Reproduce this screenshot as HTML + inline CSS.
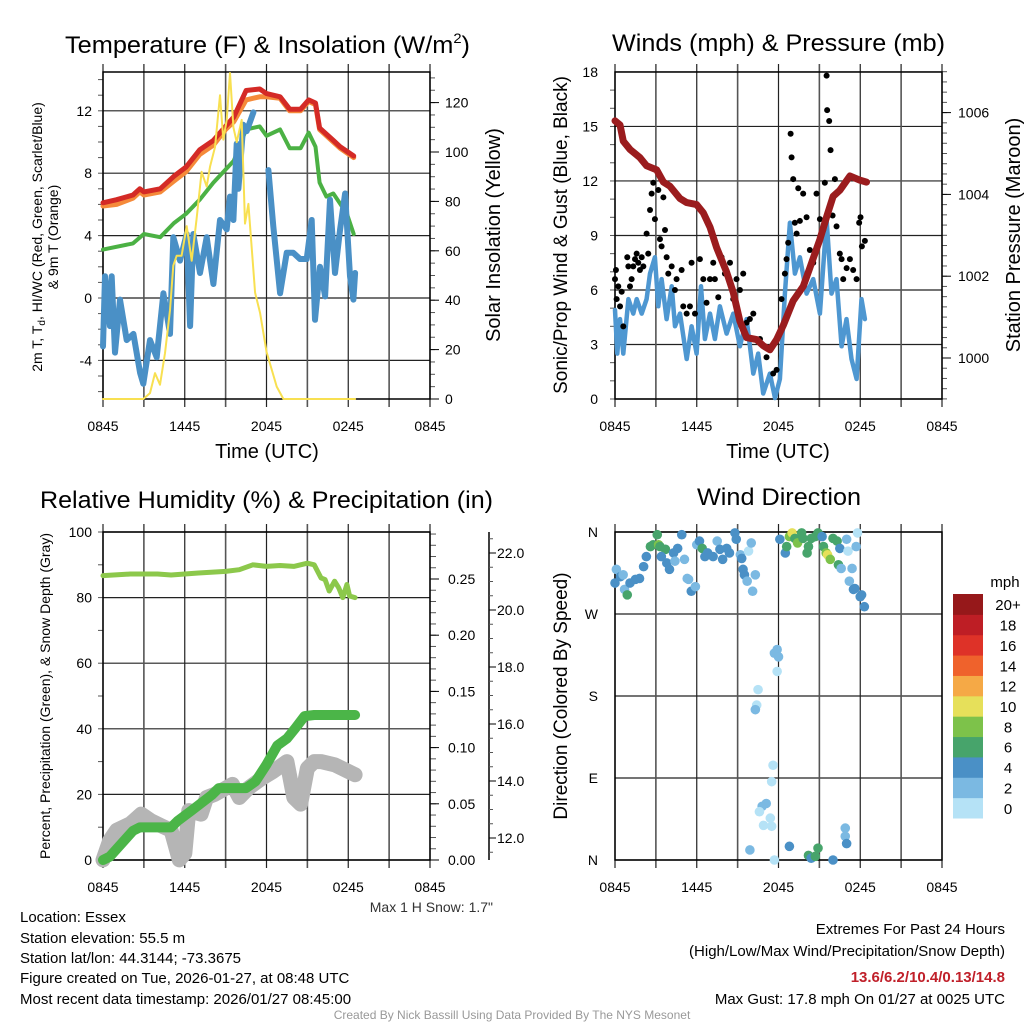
<!DOCTYPE html>
<html><head><meta charset="utf-8"><style>
html,body{margin:0;padding:0;background:#fff;}
svg{display:block;font-family:"Liberation Sans",sans-serif;}
</style></head><body>
<svg id="chart" width="1024" height="1024" viewBox="0 0 1024 1024" xmlns="http://www.w3.org/2000/svg">
<rect width="1024" height="1024" fill="#fff"/>
<g id="p1"></g>
<g id="p2"></g>
<g id="p3"></g>
<g id="p4"></g>
<g id="txt" font-size="15" fill="#000">
<text x="65" y="53" font-size="24" textLength="405" lengthAdjust="spacingAndGlyphs">Temperature (F) &amp; Insolation (W/m<tspan font-size="14" dy="-10">2</tspan><tspan dy="10">)</tspan></text>
<text x="612" y="51" font-size="24" textLength="333" lengthAdjust="spacingAndGlyphs">Winds (mph) &amp; Pressure (mb)</text>
<text x="40" y="508" font-size="24" textLength="453" lengthAdjust="spacingAndGlyphs">Relative Humidity (%) &amp; Precipitation (in)</text>
<text x="697" y="505" font-size="24" textLength="164" lengthAdjust="spacingAndGlyphs">Wind Direction</text>
<text x="267" y="458" font-size="20" text-anchor="middle">Time (UTC)</text>
<text x="778" y="458" font-size="20" text-anchor="middle">Time (UTC)</text>
<text transform="translate(42,237) rotate(-90)" font-size="14" text-anchor="middle">2m T, T<tspan font-size="10" dy="3">d</tspan><tspan dy="-3">, HI/WC (Red, Green, Scarlet/Blue)</tspan></text>
<text transform="translate(58,237) rotate(-90)" font-size="14" text-anchor="middle">&amp; 9m T (Orange)</text>
<text transform="translate(500,235) rotate(-90)" font-size="20" text-anchor="middle">Solar Insolation (Yellow)</text>
<text transform="translate(567,235) rotate(-90)" font-size="19" text-anchor="middle">Sonic/Prop Wind &amp; Gust (Blue, Black)</text>
<text transform="translate(1020,235) rotate(-90)" font-size="20" text-anchor="middle">Station Pressure (Maroon)</text>
<text transform="translate(50,696) rotate(-90)" font-size="14" text-anchor="middle">Percent, Precipitation (Green), &amp; Snow Depth (Gray)</text>
<text transform="translate(567,696) rotate(-90)" font-size="19" text-anchor="middle">Direction (Colored By Speed)</text>
<text x="493" y="912" font-size="14" fill="#333" text-anchor="end">Max 1 H Snow: 1.7"</text>
<text x="20" y="922">Location: Essex</text>
<text x="20" y="943">Station elevation: 55.5 m</text>
<text x="20" y="963">Station lat/lon: 44.3144; -73.3675</text>
<text x="20" y="983">Figure created on Tue, 2026-01-27, at 08:48 UTC</text>
<text x="20" y="1004">Most recent data timestamp: 2026/01/27 08:45:00</text>
<text x="1005" y="934" text-anchor="end">Extremes For Past 24 Hours</text>
<text x="1005" y="956" text-anchor="end">(High/Low/Max Wind/Precipitation/Snow Depth)</text>
<text x="1005" y="982" text-anchor="end" fill="#c0202a" font-weight="bold">13.6/6.2/10.4/0.13/14.8</text>
<text x="1005" y="1004" text-anchor="end">Max Gust: 17.8 mph On 01/27 at 0025 UTC</text>
<text x="512" y="1019" font-size="12" fill="#999" text-anchor="middle">Created By Nick Bassill Using Data Provided By The NYS Mesonet</text>
</g>
</svg>
<script>
// ---- Panel 1 data (hours since 0845 UTC) ----
const tempHours = [0,1,2.2,2.7,3.0,4.2,5.2,6.1,7.1,8.1,9.0,9.6,10.5,11.5,12.0,13.0,13.7,14.5,15.1,15.6,15.9,16.9,17.4,18.4];
const tempRed = [6.1,6.3,6.6,7.0,6.8,7.0,7.8,8.4,9.5,10.1,11.0,11.6,13.3,13.4,13.1,12.9,12.1,12.1,12.7,12.5,10.9,10.1,9.7,9.1];
const temp9mOrange = [5.9,6.0,6.4,6.8,6.6,6.8,7.5,8.1,9.2,9.8,10.8,11.3,12.7,12.9,12.9,12.8,12.0,12.0,12.6,12.4,10.8,10.0,9.6,9.0];
const dewHours = [0,2.2,3.0,4.2,5.2,6.1,7.1,8.1,9.6,10.5,11.5,12.0,13.0,13.7,14.5,15.1,15.6,15.9,16.4,16.9,17.9,18.4];
const dewGreen = [3.1,3.5,4.1,3.9,4.8,5.4,6.3,7.4,8.8,10.8,11.0,10.4,10.8,9.6,9.6,10.6,9.7,7.4,6.5,6.7,5.4,4.1];
const wcHours = [0,0.15,0.51,0.64,0.88,1.25,1.74,2.23,2.72,2.96,3.45,3.94,4.43,4.92,5.16,5.65,6.14,6.39,6.63,7.12,7.61,8.1,8.59,9.08,9.32,9.57,9.81,9.94,10.3,10.55,11.04,null,12.14,12.5,13.0,13.48,13.97,14.46,14.95,15.32,15.56,15.93,16.3,16.66,17.03,17.4,17.77,18.13,18.38,18.5];
const wcBlue = [-3.1,1.4,-1.8,1.4,-3.5,-0.1,-2.7,-2.3,-4.8,-5.5,-2.7,-3.8,0.3,-2.3,3.9,2.4,4.1,-1.8,4.1,1.6,3.9,0.9,5.0,4.4,6.5,5.0,9.9,7.0,11.1,10.7,11.9,null,8.2,4.6,0.3,2.9,2.9,2.5,2.5,5.0,-1.4,2.0,0.1,6.3,1.6,4.4,6.7,1.4,-0.1,1.6];
const solHours = [0,2.96,3.45,3.82,4.18,4.55,4.92,5.16,5.41,5.77,6.14,6.51,6.87,7.24,7.61,7.85,8.22,8.59,8.83,9.08,9.32,9.57,9.81,10.18,10.42,10.67,11.16,11.52,12.01,12.75,13.24,18.5];
const solar = [0,0,2.4,10.5,5.8,18.6,36,54,58,58,70,56,73,92,86,94,102,123,105,113,132,110,104,113,71,79,43,35,19,5,0,0];
// ---- Panel 2 data ----
const presHours = [0,0.37,0.61,1.1,1.83,2.32,3.06,3.55,4.03,4.77,5.26,5.99,6.48,6.97,7.46,8.19,8.68,9.17,9.66,10.39,10.88,11.37,11.86,12.35,13.08,13.81,14.3,15.04,15.53,16.01,16.5,17.24,17.97,18.46];
const pressure = [1005.8,1005.7,1005.3,1005.1,1004.9,1004.7,1004.6,1004.3,1004.2,1003.9,1003.8,1003.75,1003.55,1003.2,1002.7,1002.1,1001.6,1000.9,1000.5,1000.45,1000.3,1000.2,1000.45,1000.8,1001.4,1001.75,1002.2,1002.9,1003.45,1003.95,1004.1,1004.45,1004.35,1004.3];
const windHours = [0,0.17,0.37,0.61,0.98,1.34,1.59,1.96,2.32,2.57,2.93,3.18,3.42,3.79,4.16,4.4,4.77,5.26,5.62,5.99,6.31,6.6,6.97,7.33,7.7,8.19,8.68,9.17,9.66,10.15,10.51,10.88,11.37,11.74,12.1,12.47,12.84,13.2,13.57,14.06,14.55,15.04,15.53,15.89,16.26,16.63,16.99,17.36,17.73,18.09,18.34];
const windSpeed = [4.9,2.5,4.4,2.5,5.5,4.7,5.5,4.7,5.5,6.9,7.8,5.1,6.6,4.4,6.2,4.0,4.7,2.2,4.0,2.5,6.2,3.3,4.7,3.3,5.1,3.6,4.7,2.9,4.4,1.4,2.5,0.3,1.4,0.05,1.1,5.8,9.7,6.9,7.8,5.8,6.6,4.7,9.9,5.8,6.6,2.9,4.4,2.2,1.1,5.5,4.4];
const gustHours = [0,0.07,0.12,0.24,0.37,0.49,0.61,0.9,0.98,1.1,1.22,1.34,1.47,1.59,1.71,1.83,1.96,2.08,2.32,2.44,2.57,2.69,2.81,2.93,3.06,3.18,3.3,3.42,3.55,3.67,3.79,3.91,4.16,4.4,4.52,4.89,5.01,5.26,5.5,5.62,5.87,6.23,6.48,6.72,6.97,7.21,7.33,7.58,7.82,8.07,8.44,8.68,8.92,9.17,9.41,9.66,9.9,10.15,10.64,11.12,11.61,11.86,12.22,12.47,12.59,12.71,12.89,12.96,13.08,13.2,13.33,13.45,13.57,13.81,14.06,14.3,14.55,14.79,15.04,15.28,15.4,15.53,15.57,15.72,15.82,15.97,16.14,16.26,16.5,16.63,16.75,17.0,17.24,17.48,17.73,17.92,18.02,18.12,18.34];
const gustSpeed = [6.6,7.1,5.5,6.2,5.1,5.9,4.0,7.8,7.3,6.2,6.6,7.3,7.7,8.0,7.5,7.1,7.8,7.3,9.1,8.0,10.4,11.3,11.9,9.9,12.6,11.5,8.8,8.4,11.1,9.3,7.8,6.9,7.3,6.0,6.6,7.1,5.1,4.7,5.1,7.5,4.7,7.7,6.6,5.3,6.6,7.5,6.6,5.6,7.8,6.9,7.5,5.5,6.6,6.0,6.9,4.2,4.4,4.7,3.3,2.3,1.4,1.6,5.5,6.9,7.7,8.6,14.6,13.3,12.1,9.7,9.1,11.6,9.8,11.3,10.0,8.2,7.5,11.3,9.9,9.3,11.9,17.8,15.9,15.3,13.7,10.1,12.1,9.5,8.0,7.7,6.6,7.2,7.7,7.1,6.6,9.7,10.0,8.4,8.7];
// ---- Panel 3 data ----
const rhHours = [0,2,4,5,7,9,10,11,12,13,14,15,15.5,16,16.3,16.6,17,17.3,17.6,17.9,18.1,18.5];
const rh = [86.7,87.2,87.2,86.9,87.5,88,88.5,90,89.5,89.8,89.5,90.5,90,86,85.5,82,85,83,80,84,80.5,80];
const precipHours = [0,0.5,2.2,2.7,5.0,5.5,6.5,8.0,8.5,10.5,11.2,12.0,12.8,13.5,14.1,14.8,15.5,18.5];
const precip = [0,0.003,0.026,0.029,0.029,0.035,0.044,0.058,0.064,0.064,0.070,0.085,0.102,0.108,0.117,0.128,0.129,0.129];
const snowHours = [0,0.5,1.0,2.0,2.8,3.5,4.5,5.0,5.6,6.0,6.3,7.2,7.6,8.2,9.5,10.0,10.7,11.7,12.5,13.5,14.0,14.5,15.0,15.5,16.0,17.0,18.5];
const snowDepth = [11.23,11.92,12.27,12.5,12.84,12.61,12.38,12.27,11.23,11.46,12.96,12.84,13.42,13.53,13.88,13.42,13.76,14.11,14.34,14.68,13.42,13.19,14.45,14.68,14.68,14.57,14.22];
// ---- Panel 4 data ----
const dirHours = [0,0.1,0.4,0.6,0.7,0.9,1.1,1.5,1.8,2.1,2.3,2.6,2.8,3.1,3.2,3.3,3.7,3.4,3.8,4.0,4.3,4.4,4.6,4.9,5.1,5.3,5.4,5.6,5.9,6.0,6.2,6.4,6.6,6.8,7.2,7.5,7.7,7.9,8.2,8.4,8.8,8.9,9.2,9.3,9.4,9.5,9.7,9.8,10.0,10.1,10.3,10.5,10.4,10.3,11.9,11.7,12.0,11.9,11.6,11.5,11.1,10.8,10.6,10.9,11.4,11.5,9.9,11.7,12.1,12.5,12.6,12.8,13.0,13.2,13.4,13.7,13.8,14.1,14.2,14.4,14.7,14.9,15.2,15.3,15.5,15.6,15.8,16.0,16.3,16.4,16.5,16.6,17.0,17.1,17.2,17.4,17.5,17.6,17.7,17.8,18.0,18.1,18.3,12.8,14.2,14.4,14.7,14.9,16.0,16.9,16.9,17.0];
const dirDeg = [304,319,311,313,297,291,304,308,309,322,333,344,346,357,346,344,341,333,326,319,337,328,342,357,330,309,308,295,300,346,350,342,333,337,333,350,341,330,342,337,359,352,335,331,319,313,306,339,348,295,313,187,170,165,231,227,223,207,104,86,62,59,53,38,46,37,11,0,352,337,344,355,359,353,348,359,353,337,344,353,355,359,355,344,337,335,330,353,350,324,342,320,352,339,306,320,297,298,344,359,289,291,278,15,5,2,4,13,0,35,26,18];
const dirSpeed = [5,3,5,3,3,7,5,5,5,5,5,7,7,7,9,7,7,5,5,5,5,3,5,5,3,3,3,5,3,3,5,7,5,5,5,3,5,5,5,5,5,5,3,5,5,5,3,1,3,3,3,1,1,3,3,3,3,1,1,1,3,3,1,1,1,1,3,1,5,5,7,9,10.5,7,9,7,7,7,7,7,7,7,5,7,9,10.5,9,7,7,7,5,3,3,1,3,3,5,5,3,1,5,5,5,5,7,5,7,7,5,3,3,5];
const speedBinLabels = ["0","2","4","6","8","10","12","14","16","18","20+"];
const speedBinColors = ["#b5e2f6","#7bb9e2","#4a90c6","#47a46b","#7dc24a","#e6e05a","#f5a946","#ef622c","#de3228","#be1e25","#96181a"];
const xTickLabels = ["0845","1445","2045","0245","0845"];

const NS="http://www.w3.org/2000/svg";
function mk(parent,tag,attrs){const e=document.createElementNS(NS,tag);for(const k in attrs)e.setAttribute(k,attrs[k]);parent.appendChild(e);return e;}
function txt(parent,x,y,s,anchor,size){const t=mk(parent,'text',{x:x,y:y,'text-anchor':anchor,'font-size':size||14});t.textContent=s;return t;}

function frame(g,P,yTicks,yLab,yFn,leftLabX,name){
  yTicks.forEach((v,i)=>{const y=yFn(v);
    const l=mk(g,'line',{x1:P.x0,x2:P.x1,y1:y,y2:y,stroke:'#222','stroke-width':1.2});
    
    
    const t=txt(g,leftLabX,y+5,yLab[i],'end',14);
    
    
  });
  for(let k=0;k<=8;k++){const x=P.x0+k*(P.x1-P.x0)/8;
    const l=mk(g,'line',{x1:x,x2:x,y1:P.y0-8,y2:P.y1+8,stroke:k%2?'#555':'#222','stroke-width':k%2?1.6:1.2});
    
    
  }
  xTickLabels.forEach((s,i)=>{const t=txt(g,P.x0+i*(P.x1-P.x0)/4,P.y1+32,s,'middle',14);
    
    });
  const r=mk(g,'rect',{x:P.x0,y:P.y0,width:P.x1-P.x0,height:P.y1-P.y0,fill:'none',stroke:'#000','stroke-width':1.5});
  
  
}
function ticksV(g,x,y0,y1,step,dir,len){for(let y=y0;y>=y1-0.01;y-=step){mk(g,'line',{x1:x,x2:x+dir*len,y1:y,y2:y,stroke:'#555','stroke-width':1});}}
function path(g,hs,vs,xf,yf,attrs,name){let d='',pen=false;
  for(let i=0;i<hs.length;i++){if(hs[i]===null||vs[i]===null){pen=false;continue;}
    d+=(pen?'L':'M')+xf(hs[i]).toFixed(1)+','+yf(vs[i]).toFixed(1);pen=true;}
  const p=mk(g,'path',Object.assign({d:d,fill:'none','stroke-linejoin':'round','stroke-linecap':'round'},attrs));
  
  
  return p;}

// Panel 1
(function(){const g=document.getElementById('p1');const P={x0:103,x1:430,y0:72,y1:399};
  const xs=h=>P.x0+h*(P.x1-P.x0)/24, yL=v=>298-v*15.6, yR=v=>399-v*2.47;
  ticksV(g,P.x0,yL(-6),yL(14),15.6,-1,5);
  ticksV(g,P.x1,399,yR(130),2.47*5,1,5);
  frame(g,P,[-4,0,4,8,12],["-4","0","4","8","12"],yL,92,'temperature');
  [0,20,40,60,80,100,120].forEach(v=>{const t=txt(g,445,yR(v)+5,String(v),'start',14);
    
    
    mk(g,'line',{x1:P.x1,x2:P.x1+9,y1:yR(v),y2:yR(v),stroke:'#000'});});
  path(g,tempHours,temp9mOrange,xs,yL,{stroke:'#f58a3a','stroke-width':5},'temp-9m-orange-line');
  path(g,tempHours,tempRed,xs,yL,{stroke:'#d42a26','stroke-width':5},'temp-2m-red-line');
  path(g,dewHours,dewGreen,xs,yL,{stroke:'#4bb144','stroke-width':4},'dewpoint-green-line');
  path(g,wcHours,wcBlue,xs,yL,{stroke:'#4a90c6','stroke-width':6},'windchill-blue-line');
  path(g,solHours,solar,xs,yR,{stroke:'#f8e051','stroke-width':2},'solar-yellow-line');
})();
// Panel 2
(function(){const g=document.getElementById('p2');const P={x0:615,x1:942,y0:72,y1:399};
  const xs=h=>P.x0+h*(P.x1-P.x0)/24, yW=v=>399-v*18.17, yP=v=>358-(v-1000)*40.9;
  ticksV(g,P.x0,399,72,18.17,-1,5);
  ticksV(g,P.x1,yP(999.0),yP(1007),40.9/4,1,5);
  frame(g,P,[0,3,6,9,12,15,18],["0","3","6","9","12","15","18"],yW,598,'winds');
  [1000,1002,1004,1006].forEach(v=>{const t=txt(g,958,yP(v)+5,String(v),'start',14);
    
    
    mk(g,'line',{x1:P.x1,x2:P.x1+9,y1:yP(v),y2:yP(v),stroke:'#000'});});
  path(g,windHours,windSpeed,xs,yW,{stroke:'#4e97d1','stroke-width':4.5},'wind-speed-blue-line');
  gustHours.forEach((h,i)=>{const c=mk(g,'circle',{cx:xs(h),cy:yW(gustSpeed[i]),r:3,fill:'#000'});
    
    });
  path(g,presHours,pressure,xs,yP,{stroke:'#9b1c1e','stroke-width':7},'pressure-maroon-line');
})();
// Panel 3
(function(){const g=document.getElementById('p3');const P={x0:103,x1:430,y0:532,y1:860};
  const xs=h=>P.x0+h*(P.x1-P.x0)/24, yPct=v=>860-v*3.28, yIn=v=>860-v*1124, yS=v=>838-(v-12)*28.5;
  ticksV(g,P.x0,860,532,3.28*10,-1,5);
  ticksV(g,P.x1,860,yIn(0.29),11.24,1,6);
  frame(g,P,[0,20,40,60,80,100],["0","20","40","60","80","100"],yPct,92,'humidity');
  [0,0.05,0.10,0.15,0.20,0.25].forEach(v=>{const t=txt(g,448,yIn(v)+5,v.toFixed(2),'start',14);
    
    
    mk(g,'line',{x1:P.x1,x2:P.x1+9,y1:yIn(v),y2:yIn(v),stroke:'#000'});});
  const ax=mk(g,'line',{x1:489,x2:489,y1:532,y2:860,stroke:'#000','stroke-width':1.5});
  
  
  ticksV(g,489,yS(11.5),532,14.25,1,4);
  [12,14,16,18,20,22].forEach(v=>{const t=txt(g,497,yS(v)+5,v.toFixed(1),'start',14);
    
    
    mk(g,'line',{x1:489,x2:496,y1:yS(v),y2:yS(v),stroke:'#000'});});
  path(g,rhHours,rh,xs,yPct,{stroke:'#8cc84b','stroke-width':5},'humidity-line');
  path(g,snowHours,snowDepth,xs,yS,{stroke:'#b5b5b5','stroke-width':15},'snow-depth-gray-line');
  path(g,precipHours,precip,xs,yIn,{stroke:'#4bb548','stroke-width':10},'precip-green-line');
})();
// Panel 4
(function(){const g=document.getElementById('p4');const P={x0:615,x1:942,y0:532,y1:860};
  const xs=h=>P.x0+h*(P.x1-P.x0)/24, yD=v=>860-v*328/360;
  frame(g,P,[0,90,180,270,360],["N","E","S","W","N"],yD,598,'direction');
  dirHours.forEach((h,i)=>{const b=Math.min(10,Math.floor(dirSpeed[i]/2));
    const c=mk(g,'circle',{cx:xs(h),cy:yD(dirDeg[i]),r:4.8,fill:speedBinColors[b]});
    
    });
  const bh=(818-594)/11;
  speedBinLabels.forEach((s,i)=>{const y=818-(i+1)*bh;
    const r=mk(g,'rect',{x:953,y:y,width:30,height:bh+0.5,fill:speedBinColors[i]});
    
    
    const t=txt(g,1008,y+bh/2+6,s,'middle',15);
    
    });
  const m=txt(g,1005,587,'mph','middle',15);
  
  
})();
</script>
</body></html>
